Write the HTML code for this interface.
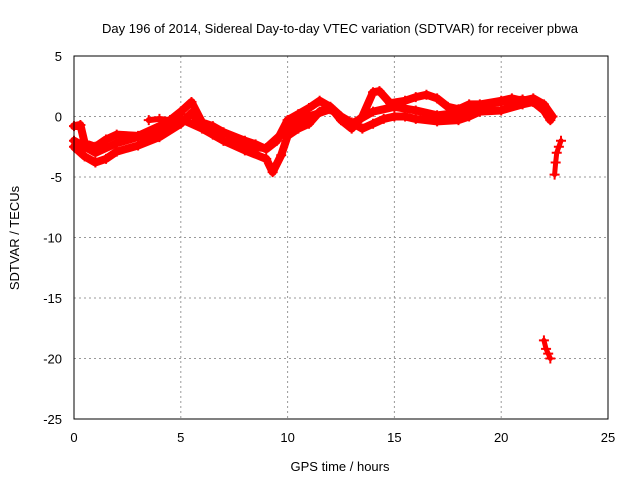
<!DOCTYPE html>
<html><head><meta charset="utf-8"><style>
body{margin:0;background:#fff}
svg{display:block;font-family:"Liberation Sans",sans-serif}
</style></head><body>
<svg id="chart" width="640" height="480">
<text x="340" y="33" text-anchor="middle" font-size="13">Day 196 of 2014, Sidereal Day-to-day VTEC variation (SDTVAR) for receiver pbwa</text>
<text x="340" y="471" text-anchor="middle" font-size="13">GPS time / hours</text>
<text transform="translate(19,238) rotate(-90)" text-anchor="middle" font-size="13">SDTVAR / TECUs</text>
<g id="grid"></g><g id="ticks"></g><g id="marks"></g>
<rect x="74" y="56" width="534" height="363" fill="none" stroke="#000"/>
</svg>
<script>
const xTicks=[0,5,10,15,20,25];
const yTicks=[5,0,-5,-10,-15,-20,-25];
const seriesAx=[0,0.5,1,1.5,2,3,4,5,5.5,6,6.5,7,8,9,9.3,9.7,10,10.5,11,11.5,12,12.5,13,13.5,14,14.5,15,15.5,16,17,18,18.5,19,20,21,21.5,22,22.3];
const seriesAy=[-2.5,-3.3,-3.8,-3.5,-2.9,-2.4,-1.7,-0.6,0.3,-0.8,-1.5,-2,-2.8,-3.5,-4.6,-3.2,-1.6,-1,-0.6,0.4,0.8,0,-0.5,-1,-0.6,-0.2,0,0,-0.2,-0.4,-0.3,0,0.4,0.5,1,1.2,0.5,-0.3];
const seriesBx=[0,0.3,0.5,1,1.5,2,3,4,4.5,5,5.5,6,6.5,7,8,8.5,9,9.5,10,10.5,11,11.5,12,12.5,13,13.5,14,14.3,14.8,15.5,16,16.5,17,17.5,18,18.5,19,20,20.5,21,21.5,22,22.4];
const seriesBy=[-0.8,-0.7,-2.2,-2.5,-1.9,-1.5,-1.6,-0.8,-0.3,0.4,1.2,-0.5,-0.8,-1.3,-2,-2.3,-2.7,-2,-0.3,0.2,0.7,1.3,0.8,-0.3,-1,0,2,2.1,1.1,1.3,1.6,1.8,1.5,0.8,0.6,1,1,1.3,1.5,1.3,1.5,1,0];
const seriesCx=[0,1,2,3,4,5,6,7,8,9,10,11,12,13,14,15,16,17,18,19,20,21,21.8,22.2];
const seriesCy=[-2,-3,-2.2,-1.7,-1.3,-0.2,-1,-2,-2.5,-2.6,-1,0,0.6,-0.6,0.4,0.8,0.5,0.1,0.3,0.9,1.2,1.4,1,0];
const seriesFx=[3.5,4,4.5,5];
const seriesFy=[-0.3,-0.2,-0.3,0.2];
const seriesDx=[22.5,22.55,22.6,22.7,22.8];
const seriesDy=[-4.8,-3.8,-3,-2.5,-2];
const seriesEx=[22.0,22.1,22.2,22.3];
const seriesEy=[-18.5,-19.2,-19.6,-20];
const X=v=>74+(v-0)/25*534, Y=v=>56+(5-v)/30*363;
const NS="http://www.w3.org/2000/svg";
const g=document.getElementById('grid'),t=document.getElementById('ticks'),m=document.getElementById('marks');
function mk(p,tag,a){const e=document.createElementNS(NS,tag);for(const k in a)e.setAttribute(k,a[k]);p.appendChild(e);return e;}
xTicks.forEach(v=>{
 if(v>0&&v<25){const l=mk(g,'line',{x1:X(v),x2:X(v),y1:56,y2:419,stroke:'#999','stroke-dasharray':'2,3'});
 
 }
 const tx=mk(t,'text',{x:X(v),y:442,'text-anchor':'middle','font-size':'13'});tx.textContent=v;
 
 
});
yTicks.forEach(v=>{
 if(v<5&&v>-25){const l=mk(g,'line',{x1:74,x2:608,y1:Y(v),y2:Y(v),stroke:'#999','stroke-dasharray':'2,3'});
 
 }
 const tx=mk(t,'text',{x:62,y:Y(v)+5,'text-anchor':'end','font-size':'13'});tx.textContent=v;
 
 
});
function series(xs,ys,name,w){
 const pts=xs.map((x,i)=>X(x)+','+Y(ys[i])).join(' ');
 const pl=mk(m,'polyline',{points:pts,fill:'none',stroke:'#f00','stroke-width':w,'stroke-linejoin':'round','stroke-linecap':'round'});
 
 
 xs.forEach((x,i)=>{const px=X(x),py=Y(ys[i]);
  const p=mk(m,'path',{d:`M${px-5},${py}h10M${px},${py-5}v10`,stroke:'#f00','stroke-width':2});
  
  });
}
series(seriesAx,seriesAy,'series-a',8);
series(seriesBx,seriesBy,'series-b',8);
series(seriesCx,seriesCy,'series-c',8);
series(seriesFx,seriesFy,'series-f',6);
series(seriesDx,seriesDy,'series-d',5);
series(seriesEx,seriesEy,'series-e',5);
</script>
</body></html>
